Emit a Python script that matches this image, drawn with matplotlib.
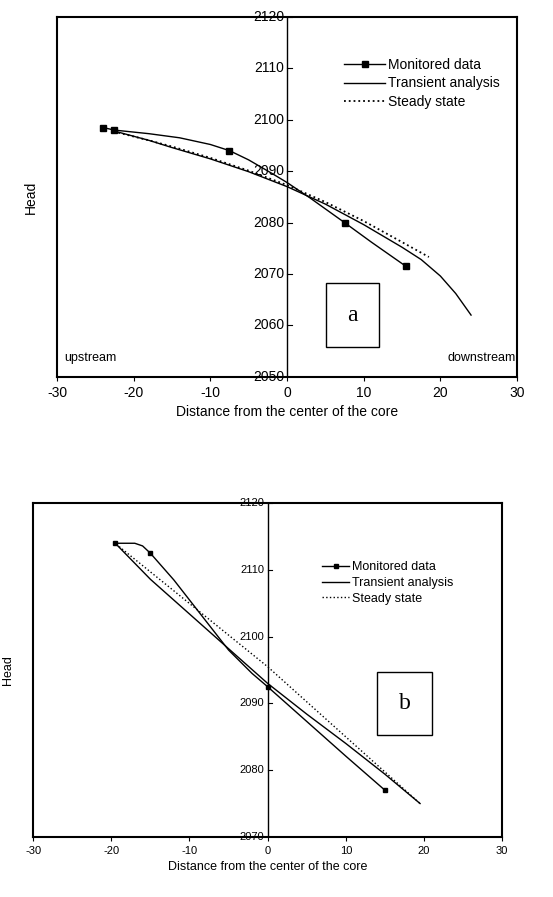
import numpy as np
import matplotlib.pyplot as plt

plt.rcParams['font.family'] = ['Liberation Sans', 'DejaVu Sans']
plt.rcParams['axes.unicode_minus'] = False

# panel a
a_mon_mx = [-24, -22.5, -7.5, 7.5, 15.5]
a_mon_my = [2098.5, 2098, 2094, 2080, 2071.5]
a_mon_x = [-24, -22.5, -18, -14, -10, -7.5, -5, -2, 0, 3, 7.5, 11, 15.5]
a_mon_y = [2098.5, 2098, 2097.3, 2096.5, 2095.2, 2094, 2092.2, 2089.6, 2087.8, 2084.8, 2080, 2076.2, 2071.5]
a_tr_x = [-22.5, -18, -15, -10, -5, 0, 5, 10, 15, 17.5, 20, 22, 24]
a_tr_y = [2097.8, 2096, 2094.6, 2092.4, 2089.9, 2087, 2083.6, 2079.6, 2075.2, 2072.8, 2069.6, 2066.2, 2062]
a_ss_x = [-22, -18, -15, -10, -5, 0, 5, 10, 15, 18.5]
a_ss_y = [2097.5, 2096, 2094.8, 2092.6, 2090.1, 2087.3, 2084, 2080.3, 2076.2, 2073.3]

# panel b
b_mon_mx = [-19.5, -15, 0, 15]
b_mon_my = [2114, 2112.5, 2092.5, 2077]
b_mon_x = [-19.5, -17, -16, -15, -12, -9, -5, -2, 0, 5, 10, 15]
b_mon_y = [2114, 2114, 2113.6, 2112.5, 2108.5, 2104, 2098, 2094.5, 2092.5, 2087.3, 2082.1, 2077]
b_tr_x = [-19.5, -15, -10, -5, 0, 5, 10, 15, 19.5]
b_tr_y = [2114, 2108.6, 2103.4, 2098.2, 2093, 2088.4, 2084, 2079.4, 2075]
b_ss_x = [-19, 0, 19.5]
b_ss_y = [2113.5, 2095.5, 2075]

fig = plt.figure(figsize=(5.53, 8.97), dpi=100)


def style(ax, ymin, ymax, fs):
    ax.set_xlim(-30, 30)
    ax.set_ylim(ymin, ymax)
    ax.set_xticks(range(-30, 31, 10))
    ax.set_yticks([])
    for s in ax.spines.values():
        s.set_linewidth(1.5)
    ax.axvline(0, color='black', lw=1)
    ax.tick_params(axis='x', labelsize=fs, direction='out', length=3)
    for v in range(ymin, ymax + 1, 10):
        ax.plot([0, 0.6], [v, v], color='black', lw=0.8)
        ax.text(-0.4, v, str(v), ha='right', va='center', fontsize=fs)


# top chart
ax1 = fig.add_axes([0.103, 0.580, 0.832, 0.401])
style(ax1, 2050, 2120, 10)
ax1.plot(a_mon_x, a_mon_y, '-', color='black', lw=1)
ax1.plot(a_mon_mx, a_mon_my, 's', color='black', ms=5)
ax1.plot([], [], '-s', color='black', lw=1, ms=5, label='Monitored data')
ax1.plot(a_tr_x, a_tr_y, '-', color='black', lw=1, label='Transient analysis')
ax1.plot(a_ss_x, a_ss_y, ':', color='black', lw=1.3, label='Steady state')
ax1.legend(loc='upper right', bbox_to_anchor=(0.99, 0.92), frameon=False, fontsize=10,
           handlelength=3, handletextpad=0.2, labelspacing=0.3)
ax1.text(-29, 2053, 'upstream', fontsize=9)
ax1.text(29.8, 2053, 'downstream', fontsize=9, ha='right')
ax1.text(8.5, 2062, 'a', fontsize=17, family='Liberation Serif', ha='center', va='center',
         bbox=dict(boxstyle='square,pad=0.9', fc='white', ec='black', lw=1))
ax1.set_xlabel('Distance from the center of the core', fontsize=10)
ax1.set_ylabel('Head', fontsize=10, labelpad=14)

# bottom chart
ax2 = fig.add_axes([0.060, 0.067, 0.848, 0.372])
style(ax2, 2070, 2120, 8)
ax2.plot(b_mon_x, b_mon_y, '-', color='black', lw=1)
ax2.plot(b_mon_mx, b_mon_my, 's', color='black', ms=3)
ax2.plot([], [], '-s', color='black', lw=1, ms=3, label='Monitored data')
ax2.plot(b_tr_x, b_tr_y, '-', color='black', lw=1, label='Transient analysis')
ax2.plot(b_ss_x, b_ss_y, ':', color='black', lw=1, label='Steady state')
ax2.legend(loc='upper right', bbox_to_anchor=(0.92, 0.86), frameon=False, fontsize=9,
           handlelength=2.2, handletextpad=0.2, labelspacing=0.3)
ax2.text(17.5, 2090, 'b', fontsize=17, family='Liberation Serif', ha='center', va='center',
         bbox=dict(boxstyle='square,pad=0.9', fc='white', ec='black', lw=1))
ax2.set_xlabel('Distance from the center of the core', fontsize=9)
ax2.set_ylabel('Head', fontsize=9, labelpad=14)

fig.savefig('out.png', dpi=100)
